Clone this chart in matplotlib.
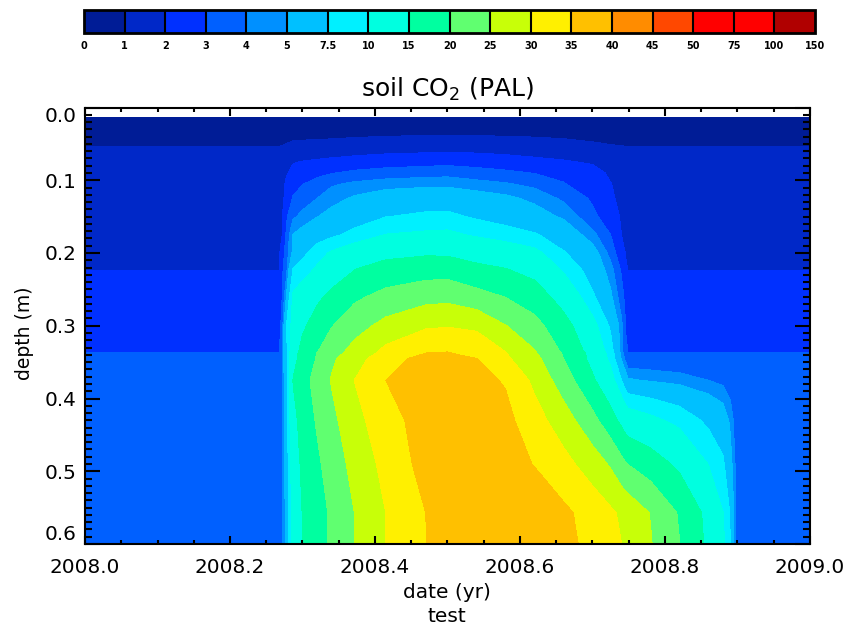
import numpy as np
import matplotlib
matplotlib.use('Agg')
import matplotlib.pyplot as plt

levels = [0, 1, 2, 3, 4, 5, 7.5, 10, 15, 20, 25, 30, 35, 40, 45, 50, 75, 100, 150]
level_labels = ['0', '1', '2', '3', '4', '5', '7.5', '10', '15', '20', '25', '30',
                '35', '40', '45', '50', '75', '100', '150']
band_colors = ['#001c96', '#0028c8', '#0030ff', '#0060ff', '#0090ff', '#00c0ff',
               '#00f0ff', '#00ffe0', '#00ffa0', '#60ff70', '#c8ff08', '#fff000',
               '#ffc000', '#ff8c00', '#ff4800', '#ff0000', '#ff0000', '#b00000']

dates = [2008.0, 2008.268, 2008.272, 2008.278, 2008.287, 2008.3, 2008.32, 2008.34,
         2008.372, 2008.415, 2008.47, 2008.5, 2008.54, 2008.58, 2008.62, 2008.66,
         2008.7, 2008.725, 2008.74, 2008.746, 2008.749, 2008.78, 2008.82, 2008.86,
         2008.88, 2008.89, 2008.897, 2009.0]
depths = [0.0144, 0.053, 0.055, 0.075, 0.09, 0.105, 0.125, 0.15, 0.175, 0.2, 0.223,
          0.226, 0.26, 0.3, 0.335, 0.338, 0.345, 0.375, 0.43, 0.49, 0.557, 0.6]

# soil CO2, one row per depth, one column per date
co2 = [
    [0.1, 0.1, 0.1, 0.1, 0.1, 0.1, 0.1, 0.1, 0.1, 0.1, 0.1, 0.1, 0.1, 0.1,
     0.1, 0.1, 0.1, 0.1, 0.1, 0.1, 0.1, 0.1, 0.1, 0.1, 0.1, 0.1, 0.1, 0.1],
    [0.98, 0.98, 1.02, 1.09, 1.21, 1.24, 1.27, 1.31, 1.39, 1.48, 1.54, 1.56, 1.54, 1.48,
     1.42, 1.32, 1.16, 1.05, 1.01, 0.99, 0.98, 0.98, 0.98, 0.98, 0.98, 0.98, 0.98, 0.98],
    [1.02, 1.02, 1.06, 1.14, 1.27, 1.3, 1.34, 1.39, 1.47, 1.57, 1.63, 1.65, 1.63, 1.57,
     1.5, 1.39, 1.22, 1.1, 1.05, 1.03, 1.02, 1.02, 1.02, 1.02, 1.02, 1.02, 1.02, 1.02],
    [1.3, 1.3, 1.35, 1.5, 1.95, 2.05, 2.15, 2.25, 2.4, 2.55, 2.65, 2.7, 2.6, 2.45,
     2.25, 2.1, 1.9, 1.7, 1.5, 1.4, 1.3, 1.3, 1.3, 1.3, 1.3, 1.3, 1.3, 1.3],
    [1.4, 1.4, 1.5, 1.9, 2.25, 2.45, 2.7, 2.95, 3.2, 3.4, 3.55, 3.63, 3.4, 3.2,
     2.97, 2.75, 2.35, 1.85, 1.65, 1.5, 1.4, 1.4, 1.4, 1.4, 1.4, 1.4, 1.4, 1.4],
    [1.5, 1.5, 1.7, 2.2, 2.6, 2.95, 3.4, 3.85, 4.2, 4.5, 4.65, 4.67, 4.35, 4.1,
     3.7, 3.05, 2.45, 2.03, 1.7, 1.55, 1.5, 1.5, 1.5, 1.5, 1.5, 1.5, 1.5, 1.5],
    [1.6, 1.6, 1.8, 2.3, 3.1, 3.55, 4.0, 4.55, 5.2, 5.8, 6.1, 6.12, 5.7, 5.3,
     4.7, 3.8, 2.85, 2.2, 1.7, 1.65, 1.6, 1.6, 1.6, 1.6, 1.6, 1.6, 1.6, 1.6],
    [1.7, 1.7, 1.95, 2.85, 3.85, 4.25, 4.95, 5.5, 6.35, 7.45, 8.0, 8.1, 7.15, 6.4,
     5.65, 4.8, 3.25, 2.45, 1.9, 1.75, 1.7, 1.7, 1.7, 1.7, 1.7, 1.7, 1.7, 1.7],
    [1.8, 1.8, 2.0, 3.2, 5.05, 5.6, 6.3, 7.0, 8.2, 10.1, 10.55, 10.7, 9.6, 8.65,
     7.75, 6.2, 4.3, 3.0, 2.0, 1.85, 1.8, 1.8, 1.8, 1.8, 1.8, 1.8, 1.8, 1.8],
    [1.9, 1.9, 2.5, 3.5, 5.3, 6.8, 8.8, 10.4, 12.2, 13.7, 14.4, 14.3, 13.1, 12.2,
     10.9, 7.7, 5.7, 3.6, 2.3, 1.95, 1.9, 1.9, 1.9, 1.9, 1.9, 1.9, 1.9, 1.9],
    [1.99, 1.99, 2.8, 3.7, 7.7, 8.75, 10.5, 12.5, 15.05, 16.9, 17.9, 18.0, 16.25, 15.25,
     13.45, 9.6, 6.25, 4.4, 2.85, 2.1, 1.99, 1.99, 1.99, 1.99, 1.99, 1.99, 1.99, 1.99],
    [2.01, 2.01, 2.85, 3.75, 7.8, 8.95, 10.7, 12.7, 15.25, 17.3, 18.3, 18.45, 16.6, 15.55,
     13.8, 9.9, 6.4, 4.45, 2.9, 2.15, 2.01, 2.01, 2.01, 2.01, 2.01, 2.01, 2.01, 2.01],
    [2.3, 2.3, 3.0, 5.1, 10.5, 11.9, 14.1, 16.1, 19.1, 21.5, 23.3, 23.6, 21.8, 19.85,
     17.4, 13.05, 7.9, 5.25, 3.35, 2.7, 2.3, 2.3, 2.3, 2.3, 2.3, 2.3, 2.3, 2.3],
    [2.6, 2.6, 3.4, 7.6, 11.2, 14.2, 17.1, 19.75, 23.1, 26.5, 29.3, 29.7, 29.0, 25.15,
     21.6, 16.8, 11.1, 7.1, 4.25, 2.95, 2.6, 2.6, 2.6, 2.6, 2.6, 2.6, 2.6, 2.6],
    [2.99, 2.99, 3.8, 6.8, 12.8, 16.45, 19.75, 22.8, 26.6, 31.2, 34.75, 34.9, 33.6, 29.9,
     25.25, 19.2, 13.1, 8.5, 4.35, 3.1, 2.99, 2.99, 2.99, 2.99, 2.99, 2.99, 2.99, 2.99],
    [3.01, 3.01, 3.85, 6.9, 13.0, 16.9, 20.1, 23.2, 26.9, 31.5, 35.05, 35.2, 34.0, 30.2,
     25.55, 19.6, 13.6, 8.8, 4.5, 3.2, 3.01, 3.01, 3.01, 3.01, 3.01, 3.01, 3.01, 3.01],
    [3.05, 3.05, 3.9, 7.0, 13.3, 17.0, 20.3, 24.3, 27.5, 33.6, 36.1, 36.4, 35.0, 30.8,
     26.45, 20.0, 13.65, 9.2, 4.8, 3.6, 3.05, 3.05, 3.05, 3.05, 3.05, 3.05, 3.05, 3.05],
    [3.2, 3.2, 3.8, 6.5, 15.2, 18.0, 21.85, 25.3, 30.1, 35.0, 37.2, 37.4, 36.4, 34.6,
     28.9, 22.5, 15.7, 11.4, 7.5, 5.8, 5.2, 4.85, 4.5, 4.0, 3.7, 3.3, 3.2, 3.2],
    [3.45, 3.45, 3.9, 6.3, 13.4, 16.9, 20.5, 23.7, 28.3, 33.2, 37.0, 37.5, 37.5, 36.4,
     32.0, 27.4, 21.5, 16.95, 13.9, 12.5, 12.1, 10.8, 9.1, 6.9, 5.95, 4.75, 3.5, 3.45],
    [3.7, 3.7, 3.85, 6.0, 12.2, 16.0, 19.1, 22.2, 26.6, 31.5, 36.8, 37.8, 38.0, 37.0,
     34.8, 31.6, 27.6, 24.4, 21.4, 20.3, 19.9, 17.4, 14.0, 9.9, 7.9, 5.6, 3.9, 3.7],
    [3.85, 3.85, 3.9, 5.5, 11.6, 15.15, 18.0, 20.7, 25.05, 30.02, 35.0, 37.5, 38.5, 38.8,
     38.0, 36.0, 33.0, 30.8, 29.25, 28.6, 28.3, 24.8, 19.5, 13.6, 10.05, 7.3, 3.98, 3.85],
    [3.9, 3.9, 3.95, 5.5, 11.5, 15.05, 17.9, 20.7, 24.95, 30.02, 34.9, 37.4, 38.5, 39.0,
     38.0, 36.5, 33.55, 31.3, 30.02, 29.3, 29.0, 25.3, 20.1, 14.0, 10.7, 7.5, 3.98, 3.9],
]

W, H = 849, 624
fig = plt.figure(figsize=(W / 100, H / 100), dpi=100)
ax = fig.add_axes([85 / W, 1 - 544 / H, 725 / W, 436.5 / H])

cs = ax.contourf(dates, depths, np.array(co2), levels=levels, colors=band_colors)

ax.set_xlim(2008.0, 2009.0)
ax.set_ylim(0.6, 0.0)
ax.set_xticks([2008.0, 2008.2, 2008.4, 2008.6, 2008.8, 2009.0])
ax.set_xticklabels(['2008.0', '2008.2', '2008.4', '2008.6', '2008.8', '2009.0'])
ax.set_xticks(np.arange(2008.0, 2009.001, 0.05), minor=True)
ax.set_yticks([0.0, 0.1, 0.2, 0.3, 0.4, 0.5, 0.6])
ax.set_yticklabels(['0.0', '0.1', '0.2', '0.3', '0.4', '0.5', '0.6'])
ax.set_yticks(np.arange(0.0, 0.6001, 0.01), minor=True)
ax.tick_params(axis='x', which='major', direction='in', top=True, length=6, width=1.5,
               labelsize=14.4, pad=10)
ax.tick_params(axis='x', which='minor', direction='in', top=True, length=3, width=1.5)
ax.tick_params(axis='y', which='major', direction='in', right=True, length=11, width=1.5,
               labelsize=14.4, pad=6)
ax.tick_params(axis='y', which='minor', direction='in', right=True, length=5, width=1.5)
# end labels are kept inside the axis range
ylabels = ax.get_yticklabels()
ylabels[0].set_verticalalignment('top')
ylabels[-1].set_verticalalignment('bottom')
for s in ax.spines.values():
    s.set_linewidth(1.5)

fig.text(447 / W, 1 - 89 / H, 'soil CO$_2$ (PAL)', ha='center', va='center', fontsize=18)
fig.text(447 / W, 1 - 592 / H, 'date (yr)', ha='center', va='center', fontsize=14.5)
fig.text(447 / W, 1 - 616 / H, 'test', ha='center', va='center', fontsize=14.5)
fig.text(24 / W, 1 - 333 / H, 'depth (m)', ha='center', va='center', rotation=90,
         fontsize=13.5)

cax = fig.add_axes([84 / W, 1 - 33 / H, 731 / W, 23 / H])
cb = fig.colorbar(cs, cax=cax, orientation='horizontal', spacing='uniform',
                  drawedges=True)
cb.set_ticks(levels, labels=level_labels)
cb.minorticks_off()
cb.ax.tick_params(length=0, labelsize=7, pad=6)
for t in cb.ax.get_xticklabels():
    t.set_fontweight('bold')
cb.dividers.set_linewidth(1.5)
cb.outline.set_linewidth(2)

fig.savefig('out.png', dpi=100)
